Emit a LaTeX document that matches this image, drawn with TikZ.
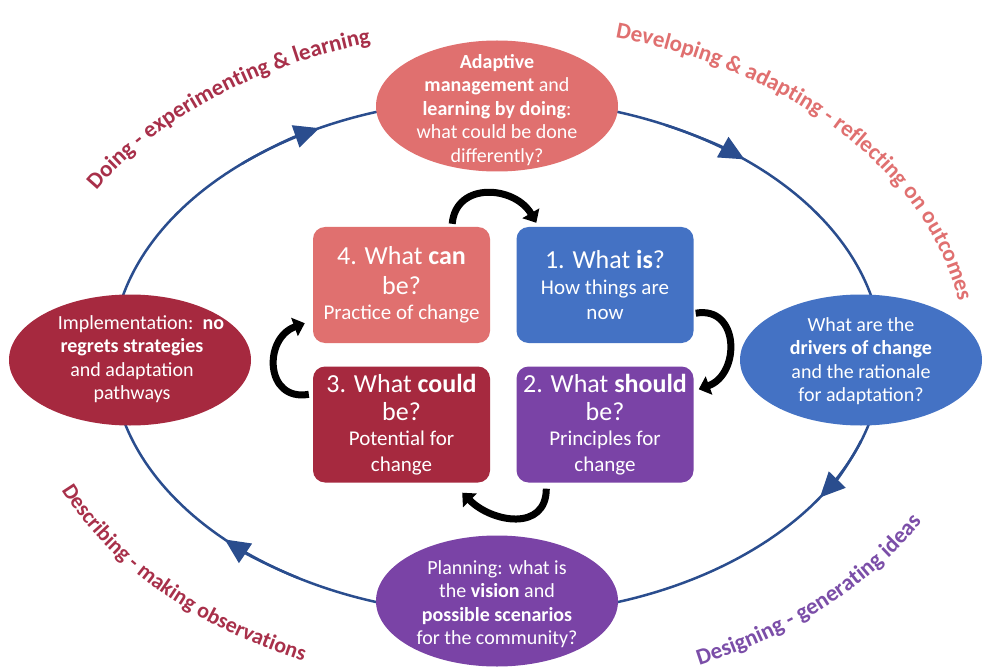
\documentclass[tikz,border=0pt]{standalone}
\usepackage{fontspec}
\setmainfont{Carlito}
\usetikzlibrary{shapes.geometric,arrows.meta,decorations.text,calc}
\definecolor{salmon}{HTML}{E0706F}
\definecolor{bluebox}{HTML}{4472C4}
\definecolor{darkred}{HTML}{A6293F}
\definecolor{purplebox}{HTML}{7A43A6}
\definecolor{ringblue}{HTML}{2A4D8E}
\definecolor{lblred}{HTML}{A8304A}
\definecolor{lblsalmon}{HTML}{E07070}
\definecolor{lblpurple}{HTML}{7B4EA8}
\newcommand\BoxTitleFont{\fontsize{26}{30}\selectfont}
\newcommand\BoxSubFont{\fontsize{21}{25.5}\selectfont}
\newcommand\EllFont{\fontsize{20}{23.5}\selectfont}
\newcommand\LblFont{\bfseries\fontsize{23}{27}\selectfont}
\newcommand\LblFontS{\bfseries\fontsize{22}{26}\selectfont}
\begin{document}
\begin{tikzpicture}[x=1pt,y=-1pt,
  ring/.style={draw=ringblue, line width=2.5pt},
  ringtip/.style={ring, -{Triangle[length=25pt,width=23pt]}},
  ell/.style={ellipse, minimum width=242pt, minimum height=131pt, inner sep=0pt},
  elltext/.style={text=white, align=center, font=\EllFont, inner sep=0pt},
  qbox/.style={rectangle, rounded corners=12pt, minimum width=177pt, minimum height=116pt, inner sep=0pt, text=white, align=center, font=\BoxSubFont},
  cyc/.style={draw=black, line width=7pt, -{Triangle[length=11pt,width=19pt]}},
  lbl/.style={decorate, decoration={text along path, text align=center, text color=#1}}
]
\useasboundingbox[fill=white] (0,0) rectangle (988,671);
\coordinate (c) at (497,357);
% outer ring
\draw[ring] (c) ellipse [x radius=385, y radius=258];
\foreach \a in {31,133,240.5,308}
  \draw[ringtip] ($(c)+(\a-12:385 and 258)$) arc[start angle=\a-12, end angle=\a+2, x radius=385, y radius=258];

% curved labels
\path[lbl=lblred, decoration={text={|\LblFont|Doing - experimenting {\&} learning}}]
  ($(c)+(194:466 and 326)$) arc[start angle=194, end angle=267, x radius=466, y radius=326];
\path[lbl=lblsalmon, decoration={text={|\LblFont|Developing {\&} adapting - reflecting on outcomes}}]
  ($(c)+(274.5:468 and 330)$) arc[start angle=274.5, end angle=364.5, x radius=468, y radius=330];
\path[lbl=lblred, decoration={text={|\LblFontS|Describing - making observations}}]
  ($(c)+(166:475 and 333)$) arc[start angle=166, end angle=106.8, x radius=475, y radius=333];
\path[lbl=lblpurple, decoration={text={|\LblFont|Designing - generating ideas}}]
  ($(c)+(72.5:486 and 339)$) arc[start angle=72.5, end angle=20, x radius=486, y radius=339];

% ellipses on the ring
\node[ell, fill=salmon] (top) at (497,106) {};
\node[elltext] at (497,110) {\textbf{Adaptive}\\ \textbf{management} and\\ \textbf{learning by doing}:\\ what could be done\\ differently?};
\node[ell, fill=bluebox] (right) at (861,360) {};
\node[elltext] at (861,361) {What are the\\ \textbf{drivers of change}\\ and the rationale\\ for adaptation?};
\node[ell, fill=purplebox] (bottom) at (497,601) {};
\node[elltext] at (497,604) {Planning: what is\\ the \textbf{vision} and\\ \textbf{possible scenarios}\\ for the community?};
\node[ell, fill=darkred] (left) at (130,360) {};
\node[elltext] at (132,359) {\hspace*{18pt}Implementation:\ \ \textbf{no}\\ \textbf{regrets strategies}\\ and adaptation\\ pathways};

% four boxes
\node[qbox, fill=salmon] (b4) at (401.5,285) {\BoxTitleFont 4. What \textbf{can}\\[4pt] \BoxTitleFont be?\\ \BoxSubFont Practice of change};
\node[qbox, fill=bluebox] (b1) at (605,285) {\BoxTitleFont 1. What \textbf{is}?\\ \BoxSubFont How things are\\ \BoxSubFont now};
\node[qbox, fill=darkred] (b3) at (401.5,424.5) {\BoxTitleFont 3. What \textbf{could}\\[2pt] \BoxTitleFont be?\\ \BoxSubFont Potential for\\ \BoxSubFont change};
\node[qbox, fill=purplebox] (b2) at (605,424.5) {\BoxTitleFont 2. What \textbf{should}\\[2pt] \BoxTitleFont be?\\ \BoxSubFont Principles for\\ \BoxSubFont change};

% black cycle arrows
\draw[cyc] ([xshift=-38pt,yshift=3pt]b4.north east) to[out=85,in=120,looseness=1.3] ([xshift=20pt,yshift=4pt]b1.north west);
\draw[cyc] ([xshift=2pt,yshift=30pt]b1.south east) to[out=10,in=20,looseness=1.5] ([xshift=5pt,yshift=-23pt]b2.north east);
\draw[cyc] ([xshift=30pt,yshift=-6pt]b2.south west) to[out=-90,in=-45,looseness=1.3] ([xshift=-28pt,yshift=-10pt]b3.south east);
\draw[cyc] ([xshift=-4pt,yshift=-28pt]b3.north west) to[out=190,in=200,looseness=1.6] ([xshift=-8pt,yshift=20pt]b4.south west);
\end{tikzpicture}
\end{document}
